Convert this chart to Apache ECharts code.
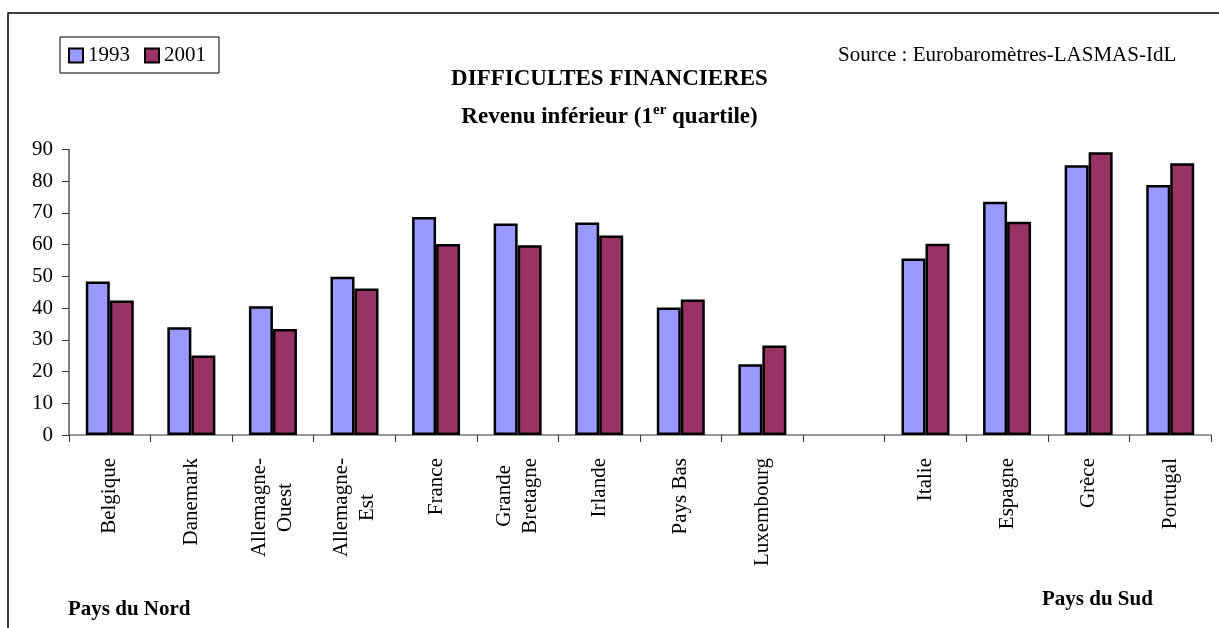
<!DOCTYPE html>
<html lang="fr">
  <head>
    <meta charset="UTF-8" />
    <title>Difficultés financières</title>
    <style>
      * { margin: 0; padding: 0; box-sizing: border-box; }
      #main { width: 1219px; height: 628px; background: #fff; }
    </style>
  </head>
  <body>
    <div id="main"></div>
    <script src="https://cdn.jsdelivr.net/npm/echarts@6/dist/echarts.min.js"></script>
    <script>
      const chart = echarts.init(document.getElementById("main"));

      // pays (une catégorie vide sépare Nord et Sud)
      const pays = [
        "Belgique", "Danemark", "Allemagne-\nOuest", "Allemagne-\nEst", "France",
        "Grande\nBretagne", "Irlande", "Pays Bas", "Luxembourg", "",
        "Italie", "Espagne", "Grèce", "Portugal"
      ];
      const v1993 = [48.4, 34.0, 40.6, 49.9, 68.7, 66.7, 67.0, 40.2, 22.3, null, 55.6, 73.5, 85.0, 78.8];
      const v2001 = [42.4, 25.1, 33.4, 46.2, 60.2, 59.8, 62.9, 42.7, 28.2, null, 60.3, 67.2, 89.1, 85.7];
      const yTicks = { min: 0, max: 90, interval: 10 };

      const serif = "Liberation Serif";

      // chaque ligne centrée dans l'étiquette
      function centerLines(v) {
        if (!v) return "";
        return v.split("\n").map((l) => "{c|" + l + "}").join("\n");
      }

      const option = {
        animation: false,
        textStyle: { fontFamily: serif, color: "#000" },
        title: [
          {
            text: "DIFFICULTES FINANCIERES",
            left: "center",
            top: 63,
            textStyle: { fontFamily: serif, fontSize: 23, fontWeight: "bold", color: "#000" }
          },
          {
            text: "Revenu inférieur (1{sup|er} quartile)",
            left: "center",
            top: 98,
            textStyle: {
              fontFamily: serif, fontSize: 23, fontWeight: "bold", color: "#000",
              lineHeight: 28,
              rich: {
                sup: { fontFamily: serif, fontSize: 15, fontWeight: "bold", verticalAlign: "top", lineHeight: 28, padding: [0, 0, 10, 0] }
              }
            }
          },
          {
            text: "Source : Eurobaromètres-LASMAS-IdL",
            left: 833,
            top: 40,
            textStyle: { fontFamily: serif, fontSize: 21, fontWeight: "normal", color: "#000" }
          },
          {
            text: "Pays du Nord",
            left: 63,
            top: 594,
            textStyle: { fontFamily: serif, fontSize: 21, fontWeight: "bold", color: "#000" }
          },
          {
            text: "Pays du Sud",
            left: 1037,
            top: 584,
            textStyle: { fontFamily: serif, fontSize: 21, fontWeight: "bold", color: "#000" }
          }
        ],
        legend: {
          left: 60,
          top: 37,
          orient: "horizontal",
          itemWidth: 14,
          itemHeight: 14,
          itemGap: 14,
          padding: [8, 13, 7, 8],
          borderColor: "#000",
          borderWidth: 1,
          icon: "rect",
          textStyle: { fontFamily: serif, fontSize: 21, color: "#000" },
          data: ["1993", "2001"]
        },
        graphic: [
          {
            type: "polyline",
            shape: { points: [[8, 628], [8, 13], [1219, 13]] },
            style: { stroke: "#000", lineWidth: 1.5, fill: null }
          }
        ],
        grid: { left: 69, right: 8, top: 149.5, bottom: 193 },
        xAxis: {
          type: "category",
          data: pays,
          axisLine: { lineStyle: { color: "#777", width: 1.5 } },
          axisTick: { show: true, alignWithLabel: false, length: 7, inside: false, lineStyle: { color: "#333" } },
          axisLabel: {
            interval: 0,
            rotate: 90,
            margin: 23,
            fontFamily: serif,
            fontSize: 21,
            color: "#000",
            lineHeight: 26,
            formatter: centerLines,
            rich: {
              c: { fontFamily: serif, fontSize: 21, color: "#000", lineHeight: 26, align: "center" }
            }
          }
        },
        yAxis: {
          type: "value",
          min: yTicks.min,
          max: yTicks.max,
          interval: yTicks.interval,
          splitLine: { show: false },
          axisLine: { show: true, lineStyle: { color: "#555", width: 1.5 } },
          axisTick: { show: true, length: 7, lineStyle: { color: "#333" } },
          axisLabel: { fontFamily: serif, fontSize: 21, color: "#000", margin: 16 }
        },
        series: [
          {
            name: "1993",
            type: "bar",
            data: v1993,
            barWidth: 24,
            barGap: "0%",
            itemStyle: { color: "#9999FF", borderColor: "#000", borderWidth: 2.5 }
          },
          {
            name: "2001",
            type: "bar",
            data: v2001,
            barWidth: 24,
            barGap: "0%",
            itemStyle: { color: "#993366", borderColor: "#000", borderWidth: 2.5 }
          }
        ]
      };

      chart.setOption(option);
    </script>
  </body>
</html>
